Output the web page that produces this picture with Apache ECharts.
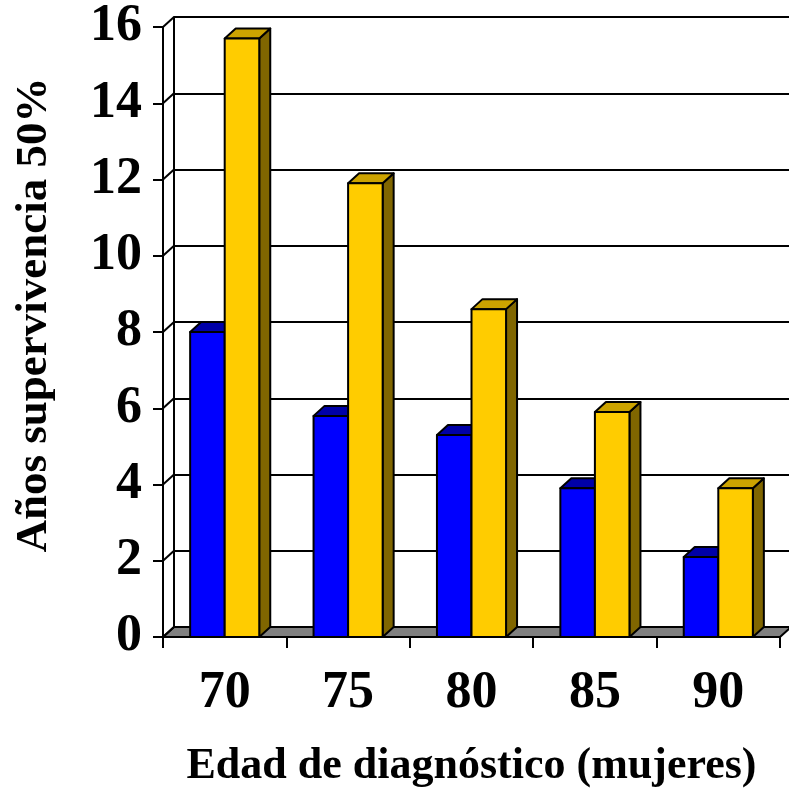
<!DOCTYPE html>
<html>
<head>
<meta charset="utf-8">
<script src="https://cdn.jsdelivr.net/npm/echarts@6/dist/echarts.min.js"></script>
<style>
html,body{margin:0;padding:0;background:#fff;}
#c{width:789px;height:798px;}
</style>
</head>
<body>
<div id="c"></div>
<script>
// ---- data ----
const categories = ['70', '75', '80', '85', '90'];
const blueValues = [8.0, 5.8, 5.3, 3.9, 2.1];
const yellowValues = [15.7, 11.9, 8.6, 5.9, 3.9];
const yTicks = [0, 2, 4, 6, 8, 10, 12, 14, 16];
const xTitle = 'Edad de diagnóstico (mujeres)';
const yTitle = 'Años supervivencia 50%';

// ---- style ----
const FONT = "'Liberation Serif', 'Times New Roman', serif";
const DX = 11, DY = 10;        // depth offset of the 3D look
const BAR_FRAC = 0.28;         // bar width as fraction of category band

const chart = echarts.init(document.getElementById('c'), null, {renderer: 'canvas'});

function barRenderer(offset, cFront, cTop, cSide) {
  return function (params, api) {
    const idx = api.value(0);
    const v = api.value(1);
    const p = api.coord([idx, v]);
    const b = api.coord([idx, 0]);
    const bw = api.size([1, 0])[0];
    const w = bw * BAR_FRAC;
    const x0 = p[0] + offset * w, x1 = x0 + w;
    const top = p[1], bottom = b[1];
    const st = {stroke: '#000', lineWidth: 2, lineJoin: 'round'};
    return {
      type: 'group',
      children: [
        {type: 'polygon', shape: {points: [[x1, top], [x1 + DX, top - DY], [x1 + DX, bottom - DY], [x1, bottom]]},
         style: Object.assign({fill: cSide}, st)},
        {type: 'polygon', shape: {points: [[x0, top], [x0 + DX, top - DY], [x1 + DX, top - DY], [x1, top]]},
         style: Object.assign({fill: cTop}, st)},
        {type: 'rect', shape: {x: x0, y: top, width: w, height: bottom - top},
         style: Object.assign({fill: cFront}, st)}
      ]
    };
  };
}

const option = {
  animation: false,
  backgroundColor: '#fff',
  grid: [
    {left: 163, top: 27, width: 617, height: 610, containLabel: false, outerBoundsMode: 'none'},
    {left: 174, top: 17, width: 617, height: 610, containLabel: false, outerBoundsMode: 'none'}
  ],
  xAxis: [
    {
      type: 'category', gridIndex: 0, data: categories,
      boundaryGap: true,
      axisLine: {show: true, lineStyle: {color: '#000', width: 2}},
      axisTick: {show: true, length: 11, inside: false, lineStyle: {color: '#000', width: 2}},
      axisLabel: {fontFamily: FONT, fontWeight: 'bold', fontSize: 52, color: '#000', margin: 31},
      name: xTitle, nameLocation: 'middle', nameGap: 108,
      nameTextStyle: {fontFamily: FONT, fontWeight: 'bold', fontSize: 44, color: '#000'},
      splitLine: {show: false}
    },
    {
      type: 'category', gridIndex: 1, data: categories, show: false
    }
  ],
  yAxis: [
    {
      type: 'value', gridIndex: 0, min: 0, max: 16, interval: 2,
      axisLine: {show: true, lineStyle: {color: '#000', width: 2}},
      axisTick: {show: true, length: 10, inside: false, lineStyle: {color: '#000', width: 2}},
      axisLabel: {fontFamily: FONT, fontWeight: 'bold', fontSize: 52, color: '#000', margin: 21},
      splitLine: {show: false},
      name: yTitle, nameLocation: 'middle', nameGap: 106, nameRotate: 90,
      nameTextStyle: {fontFamily: FONT, fontWeight: 'bold', fontSize: 45, color: '#000', padding: [0, 0, 0, 34]}
    },
    {
      type: 'value', gridIndex: 1, min: 0, max: 16, interval: 2,
      axisLine: {show: true, lineStyle: {color: '#000', width: 2}},
      axisTick: {show: false},
      axisLabel: {show: false},
      splitLine: {show: true, lineStyle: {color: '#000', width: 2}}
    }
  ],
  series: [
    {
      // floor of the 3D plot
      type: 'custom', name: 'floor', xAxisIndex: 0, yAxisIndex: 0, z: 1, silent: true,
      data: [[0, 0]],
      renderItem: function (params, api) {
        const cs = params.coordSys;
        const yb = api.coord([0, 0])[1];
        return {
          type: 'polygon',
          shape: {points: [[cs.x, yb], [cs.x + DX, yb - DY], [cs.x + cs.width + DX, yb - DY], [cs.x + cs.width, yb]]},
          style: {fill: '#808080', stroke: '#000', lineWidth: 2}
        };
      }
    },
    {
      // side wall lines joining front ticks with back gridlines
      type: 'custom', name: 'wall', xAxisIndex: 0, yAxisIndex: 0, z: 1, silent: true,
      data: yTicks.map(v => [0, v]),
      renderItem: function (params, api) {
        const cs = params.coordSys;
        const y = api.coord([0, api.value(1)])[1];
        return {
          type: 'line',
          shape: {x1: cs.x, y1: y, x2: cs.x + DX, y2: y - DY},
          style: {stroke: '#000', lineWidth: 2}
        };
      }
    },
    {
      type: 'custom', name: 'blue', xAxisIndex: 0, yAxisIndex: 0, z: 3,
      data: blueValues.map((v, i) => [i, v]),
      renderItem: barRenderer(-1, '#0000FF', '#0000A8', '#000080')
    },
    {
      type: 'custom', name: 'yellow', xAxisIndex: 0, yAxisIndex: 0, z: 4,
      data: yellowValues.map((v, i) => [i, v]),
      renderItem: barRenderer(0, '#FFCC00', '#CCA300', '#806600')
    }
  ]
};
chart.setOption(option);
</script>
</body>
</html>
